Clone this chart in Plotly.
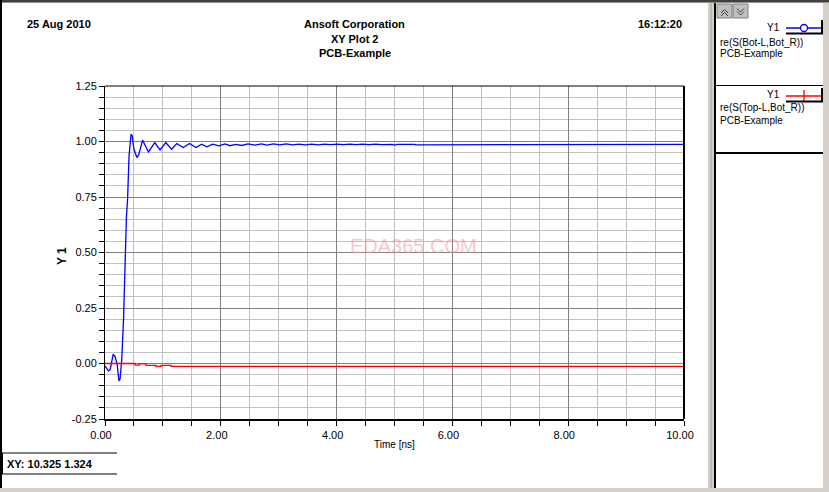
import plotly.graph_objects as go

# ---------------- data ----------------
blue_t = [0.00, 0.06, 0.09, 0.14, 0.17, 0.21, 0.24, 0.26, 0.29, 0.32, 0.345, 0.36, 0.37, 0.39, 0.40,
          0.415, 0.45, 0.47, 0.50, 0.55, 0.58, 0.65, 0.75, 0.86, 0.95, 1.05, 1.15, 1.24, 1.35, 1.46,
          1.57, 1.67, 1.76, 1.86, 1.97, 2.07, 2.16, 2.26, 2.36, 2.47, 2.59, 2.70, 2.80, 2.91, 3.02,
          3.13, 3.24, 3.35, 3.46, 3.57, 3.68, 3.79, 3.90, 4.01, 4.12, 4.23, 4.34, 4.45, 4.56, 4.67,
          4.78, 4.90, 4.96, 5.00, 5.05, 5.35, 5.37, 10.0]
blue_v = [-0.011, -0.033, -0.028, 0.040, 0.034, -0.003, -0.078, -0.070, 0.020, 0.200, 0.430, 0.575, 0.660, 0.740, 0.830,
          0.935, 1.033, 1.025, 0.965, 0.928, 0.938, 1.006, 0.953, 0.995, 0.962, 0.995, 0.965, 0.991, 0.973, 0.991,
          0.973, 0.988, 0.976, 0.988, 0.980, 0.989, 0.981, 0.987, 0.982, 0.989, 0.984, 0.989, 0.984, 0.989, 0.985,
          0.989, 0.985, 0.988, 0.985, 0.988, 0.985, 0.988, 0.986, 0.988, 0.986, 0.988, 0.986, 0.988, 0.986, 0.988,
          0.986, 0.988, 0.987, 0.984, 0.987, 0.987, 0.985, 0.987]

red_t = [0.00, 0.52, 0.59, 0.71, 0.88, 0.97, 1.14, 10.0]
red_v = [0.000, -0.007, -0.002, -0.008, -0.013, -0.008, -0.013, -0.013]

x_tick_vals = [0, 2, 4, 6, 8, 10]
x_tick_text = ["0.00", "2.00", "4.00", "6.00", "8.00", "10.00"]
y_tick_vals = [-0.25, 0.0, 0.25, 0.5, 0.75, 1.0, 1.25]
y_tick_text = ["-0.25", "0.00", "0.25", "0.50", "0.75", "1.00", "1.25"]

# ---------------- geometry helpers (pixel -> paper) ----------------
W, H = 829, 492
L, R, T, B = 105, 684, 86, 419
def X(px):
    return (px - L) / (R - L)
def Y(py):
    return (B - py) / (B - T)

FONT = "Liberation Sans, Arial, sans-serif"

fig = go.Figure()
fig.add_trace(go.Scatter(x=blue_t, y=blue_v, mode="lines",
                         line=dict(color="#0000ff", width=1.3), hoverinfo="skip"))
fig.add_trace(go.Scatter(x=red_t, y=red_v, mode="lines",
                         line=dict(color="#ff0000", width=1.3, shape="hv"), hoverinfo="skip"))

shapes = []
def rect(x0, y0, x1, y1, fill, line_color=None, lw=0, layer="above"):
    shapes.append(dict(type="rect", xref="paper", yref="paper",
                       x0=X(x0), x1=X(x1), y0=Y(y0), y1=Y(y1),
                       fillcolor=fill, line=dict(width=lw, color=line_color or fill), layer=layer))
def line(x0, y0, x1, y1, color="black", lw=1, layer="above"):
    shapes.append(dict(type="line", xref="paper", yref="paper",
                       x0=X(x0), x1=X(x1), y0=Y(y0), y1=Y(y1),
                       line=dict(color=color, width=lw), layer=layer))

# window frame
rect(0, 0, W, 2, "#404040")
rect(0, 2, W, 3, "#909090")
rect(0, 0, 2, 488, "#000000")
rect(0, 488, W, H, "#d4d0c8")
rect(708, 3, 714, 488, "#d4d0c8")
line(711, 3, 711, 488, "#a0a0a0", 1)
rect(714, 3, 716, 488, "#000000")
rect(823, 3, W, 488, "#d4d0c8")

# plot borders (top / right)
line(L, T, R, T, "black", 1)
line(R, T, R, B, "black", 2)

# XY readout box
line(0, 453, 117, 453, "black", 1)
line(0, 474, 117, 474, "black", 1)
rect(0, 453, 3, 474, "#000000")

# legend panel
rect(717, 4, 732, 18, "#c0c0c0", "#808080", 1)
rect(733, 4, 748, 18, "#c0c0c0", "#808080", 1)
for dy in (0, 3):
    shapes.append(dict(type="path", xref="paper", yref="paper",
                       path=f"M {X(721)},{Y(13+dy)} L {X(724.5)},{Y(9.5+dy)} L {X(728)},{Y(13+dy)}",
                       line=dict(color="#404040", width=1), layer="above"))
    shapes.append(dict(type="path", xref="paper", yref="paper",
                       path=f"M {X(737)},{Y(8.5+dy)} L {X(740.5)},{Y(12+dy)} L {X(744)},{Y(8.5+dy)}",
                       line=dict(color="#404040", width=1), layer="above"))
line(716, 85.5, 823, 85.5, "black", 1)
line(716, 153, 823, 153, "black", 2)
# entry 1 sample
line(786, 28, 823, 28, "#0000ff", 1.3)
shapes.append(dict(type="circle", xref="paper", yref="paper",
                   x0=X(800.5), x1=X(807.5), y0=Y(24.5), y1=Y(31.5),
                   fillcolor="white", line=dict(color="#0000ff", width=1.3), layer="above"))
line(786, 33.5, 823, 33.5, "black", 2)
line(822, 20, 822, 33, "black", 2)
# entry 2 sample
line(786, 96, 823, 96, "#ff0000", 1.3)
line(804, 90, 804, 102, "#ff0000", 1.3)
line(786, 101.5, 823, 101.5, "black", 2)
line(822, 88, 822, 101, "black", 2)

annotations = []
def text(s, px, py, size=11, bold=False, anchor="center", color="black", angle=0, family=FONT):
    annotations.append(dict(text=f"<b>{s}</b>" if bold else s, xref="paper", yref="paper",
                            x=X(px), y=Y(py), xanchor=anchor, yanchor="middle",
                            showarrow=False, textangle=angle,
                            font=dict(family=family, size=size, color=color)))

text("25 Aug 2010", 25, 24, 11, True, "left")
text("Ansoft Corporation", 354.5, 24, 11, True)
text("XY Plot 2", 354.5, 39, 11, True)
text("PCB-Example", 354.5, 53, 11, True)
text("16:12:20", 684, 24, 11, True, "right")
text("Y 1", 62, 256, 12, True, angle=-90)
text("Time [ns]", 394, 444, 10)
text("XY: 10.325 1.324", 5, 464, 11, True, "left")
text("EDA365.COM", 413, 245.5, 20, False, color="rgba(245,150,150,0.55)")
text("Y1", 782, 27, 10, False, "right")
text("re(S(Bot-L,Bot_R))", 718, 42, 10, False, "left")
text("PCB-Example", 718, 54, 10, False, "left")
text("Y1", 782, 95, 10, False, "right")
text("re(S(Top-L,Bot_R))", 718, 108, 10, False, "left")
text("PCB-Example", 718, 121, 10, False, "left")

fig.update_layout(
    width=W, height=H,
    margin=dict(l=L, r=W - R, t=T, b=H - B, pad=0),
    paper_bgcolor="white", plot_bgcolor="white",
    showlegend=False,
    font=dict(family=FONT, size=11, color="black"),
    shapes=shapes, annotations=annotations,
    xaxis=dict(range=[0, 10], tickmode="array", tickvals=x_tick_vals, ticktext=x_tick_text,
               ticks="outside", ticklen=5, tickcolor="black", tickwidth=1,
               showgrid=True, gridcolor="#808080", gridwidth=1, zeroline=False,
               showline=True, linecolor="black", linewidth=2,
               tickfont=dict(size=11, family=FONT), ticklabelshift=-4,
               minor=dict(tick0=0, dtick=0.5, ticks="outside", ticklen=5, tickcolor="black",
                          showgrid=True, gridcolor="#c0c0c0", gridwidth=1),
               fixedrange=True),
    yaxis=dict(range=[-0.25, 1.25], tickmode="array", tickvals=y_tick_vals, ticktext=y_tick_text,
               ticks="outside", ticklen=5, tickcolor="black", tickwidth=1,
               showgrid=True, gridcolor="#808080", gridwidth=1, zeroline=False,
               showline=True, linecolor="black", linewidth=1,
               tickfont=dict(size=11, family=FONT),
               minor=dict(tick0=-0.25, dtick=0.05, ticks="outside", ticklen=5, tickcolor="black",
                          showgrid=True, gridcolor="#c0c0c0", gridwidth=1),
               fixedrange=True),
)

fig.write_html("out.html", config={"displayModeBar": False},
               post_script="document.body.style.margin='0';document.body.style.overflow='hidden';")
